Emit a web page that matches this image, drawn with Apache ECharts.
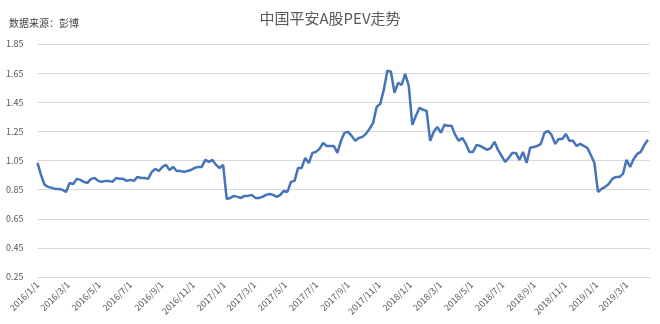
<!DOCTYPE html>
<html>
<head>
<meta charset="utf-8">
<script src="https://cdn.jsdelivr.net/npm/echarts@6/dist/echarts.min.js"></script>
<style>
html,body{margin:0;padding:0;background:#fff;}
#main{width:660px;height:324px;}
</style>
</head>
<body>
<div id="main"></div>
<script>
// weekly PEV, first point 2016/1/1
var startDate = [2016, 1, 1];
var pev2016 = [1.033,0.95,0.882,0.869,0.862,0.855,0.855,0.848,0.834,0.896,
	0.889,0.924,0.917,0.903,0.896,0.924,0.930,0.910,0.903,0.910,
	0.910,0.903,0.930,0.924,0.924,0.910,0.917,0.910,0.937,0.930,
	0.930,0.924,0.972,0.992,0.978,1.006,1.020,0.985,1.006,0.978,
	0.978,0.972,0.978,0.985,0.999,1.006,1.006,1.054,1.040,1.054,
	1.020,0.999,1.020];
var pev2017 = [0.786,0.793,0.807,0.800,0.793,0.807,0.807,0.814,0.793,0.793,
	0.800,0.814,0.820,0.814,0.800,0.814,0.841,0.834,0.903,0.910,
	0.999,0.999,1.068,1.033,1.102,1.109,1.130,1.171,1.150,1.150,
	1.150,1.102,1.185,1.240,1.247,1.219,1.185,1.205,1.212,1.233,
	1.267,1.308,1.418,1.439,1.535,1.666,1.659,1.515,1.583,1.570,
	1.645,1.563];
var pev2018 = [1.295,1.357,1.412,1.398,1.391,1.185,1.247,1.281,1.240,1.295,
	1.288,1.288,1.226,1.185,1.205,1.164,1.109,1.109,1.157,1.150,
	1.137,1.123,1.137,1.178,1.123,1.082,1.040,1.068,1.102,1.102,
	1.054,1.109,1.033,1.137,1.143,1.150,1.164,1.240,1.253,1.226,
	1.164,1.198,1.198,1.233,1.185,1.185,1.150,1.164,1.150,1.137,
	1.088,1.033];
var pev2019 = [0.834,0.855,0.869,0.889,0.924,0.937,0.937,0.958,1.054,1.006,
	1.061,1.095,1.109,1.157,1.192];

var xTickLabels = ['2016/1/1','2016/3/1','2016/5/1','2016/7/1','2016/9/1','2016/11/1',
	'2017/1/1','2017/3/1','2017/5/1','2017/7/1','2017/9/1','2017/11/1',
	'2018/1/1','2018/3/1','2018/5/1','2018/7/1','2018/9/1','2018/11/1',
	'2019/1/1','2019/3/1'];
var axisEnd = [2019, 4, 16];

function toTime(s){
	var p = s.split('/');
	return new Date(+p[0], p[1]-1, +p[2]).getTime();
}

var values = pev2016.concat(pev2017, pev2018, pev2019);
var data = [];
for(var i=0;i<values.length;i++){
	var t = new Date(startDate[0], startDate[1]-1, startDate[2] + i*7).getTime();
	data.push([t, values[i]]);
}
var tickTimes = [];
for(var j=0;j<xTickLabels.length;j++){
	tickTimes.push(toTime(xTickLabels[j]));
}

var myChart = echarts.init(document.getElementById('main'), null, {renderer:'canvas'});
var option = {
	backgroundColor: '#fff',
	animation: false,
	textStyle: {fontFamily: '"Noto Sans CJK SC", "Noto Sans", sans-serif'},
	title: [{
		text: '中国平安A股PEV走势',
		left: 'center',
		top: 6,
		textStyle: {fontSize: 15, fontWeight: 'normal', color: '#595959'}
	},{
		text: '数据来源：彭博',
		left: 4,
		top: 13,
		textStyle: {fontSize: 10, fontWeight: 'normal', color: '#404040'}
	}],
	grid: {left: 37.5, right: 10, top: 44, bottom: 47},
	xAxis: {
		type: 'value',
		min: tickTimes[0],
		max: new Date(axisEnd[0], axisEnd[1]-1, axisEnd[2]).getTime(),
		axisLine: {show: true, lineStyle: {color: '#d9d9d9'}},
		axisTick: {show: false},
		splitLine: {show: false},
		axisLabel: {
			customValues: tickTimes,
			rotate: 45,
			fontSize: 9,
			color: '#595959',
			margin: 6,
			formatter: function(v){
				var d = new Date(v);
				return d.getFullYear() + '/' + (d.getMonth()+1) + '/' + d.getDate();
			}
		}
	},
	yAxis: {
		type: 'value',
		min: 0.25,
		max: 1.85,
		interval: 0.2,
		axisLine: {show: false},
		axisTick: {show: false},
		splitLine: {lineStyle: {color: '#d9d9d9', width: 1}},
		axisLabel: {
			fontSize: 9,
			color: '#595959',
			margin: 14,
			formatter: function(v){ return v.toFixed(2); }
		}
	},
	series: [{
		name: 'PEV',
		type: 'line',
		data: data,
		showSymbol: false,
		lineStyle: {color: '#4674b9', width: 2.5},
		itemStyle: {color: '#4674b9'}
	}]
};
myChart.setOption(option);
</script>
</body>
</html>
